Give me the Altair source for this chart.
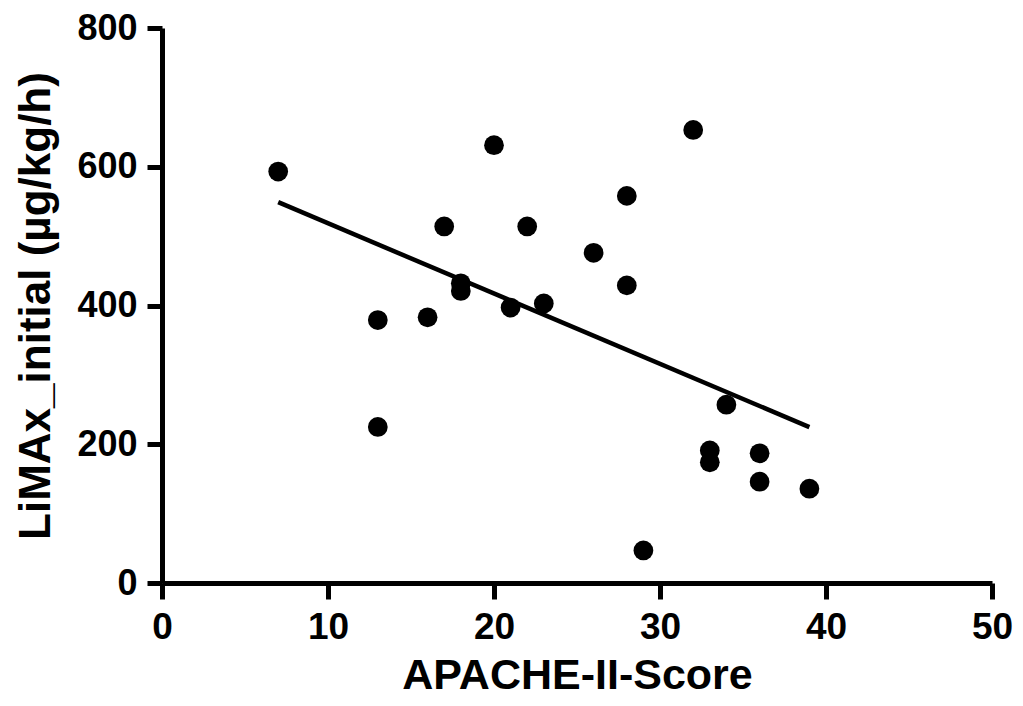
import altair as alt
import pandas as pd

apache = [7, 13, 13, 16, 17, 18, 18, 20, 21, 22, 23, 26, 28, 28, 29, 32, 33, 33, 34, 36, 36, 39]
limax = [593, 379, 225, 383, 514, 432, 421, 631, 397, 514, 403, 476, 558, 429, 47, 653, 191, 174, 257, 187, 146, 136]
x_ticks = [0, 10, 20, 30, 40, 50]
y_ticks = [0, 200, 400, 600, 800]

df = pd.DataFrame({"APACHE": apache, "LiMAx": limax})

FONT = "Liberation Sans"

x_enc = alt.X(
    "APACHE:Q",
    scale=alt.Scale(domain=[0, 50], nice=False, zero=False),
    axis=alt.Axis(
        title="APACHE-II-Score",
        values=x_ticks,
        grid=False,
        labelFont=FONT,
        labelFontSize=37,
        labelFontWeight="bold",
        labelColor="black",
        labelPadding=10,
        titleFont=FONT,
        titleFontSize=43,
        titleFontWeight="bold",
        titleColor="black",
        titlePadding=9,
        domainColor="black",
        domainWidth=5,
        tickColor="black",
        tickWidth=5,
        tickSize=16,
        labelFlush=False,
    ),
)
y_enc = alt.Y(
    "LiMAx:Q",
    scale=alt.Scale(domain=[0, 800], nice=False, zero=False),
    axis=alt.Axis(
        title="LiMAx_initial (µg/kg/h)",
        values=y_ticks,
        grid=False,
        labelFont=FONT,
        labelFontSize=36,
        labelFontWeight="bold",
        labelColor="black",
        labelPadding=10,
        titleFont=FONT,
        titleFontSize=44,
        titleFontWeight="bold",
        titleColor="black",
        titlePadding=18,
        domainColor="black",
        domainWidth=5,
        tickColor="black",
        tickWidth=5,
        tickSize=15,
        labelFlush=False,
    ),
)

points = alt.Chart(df).mark_circle(size=390, color="black", opacity=1).encode(x=x_enc, y=y_enc)

line = (
    alt.Chart(df)
    .transform_regression("APACHE", "LiMAx")
    .mark_line(color="black", strokeWidth=4.5)
    .encode(x="APACHE:Q", y="LiMAx:Q")
)

chart = (
    alt.layer(points, line)
    .properties(
        width=830,
        height=555,
        autosize=alt.AutoSizeParams(type="none"),
        padding={"left": 154, "top": 20, "right": 23, "bottom": 115},
        background="white",
    )
    .configure_view(stroke=None)
)

chart.save("out.html", embed_options={"renderer": "svg", "actions": False})
